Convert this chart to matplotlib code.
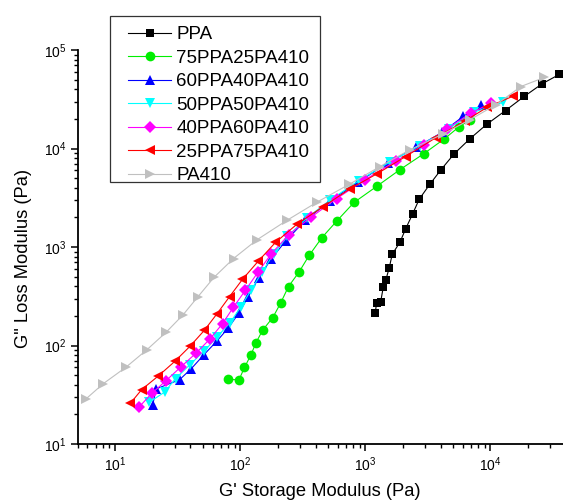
import matplotlib
matplotlib.use("Agg")
import matplotlib.pyplot as plt
from matplotlib.patches import Rectangle

plt.rcParams['font.family'] = ['Liberation Sans', 'DejaVu Sans']
plt.rcParams['mathtext.default'] = 'regular'

# ---- data (G' storage modulus, G'' loss modulus, Pa) ----
ppa_x = [1200, 1230, 1324, 1390, 1453, 1552, 1640, 1890, 2100, 2388, 2694, 3279,
         4036, 5129, 6843, 9300, 13200, 18580, 25880, 35400]
ppa_y = [215, 271, 275, 391, 457, 615, 845, 1119, 1530, 2173, 3057, 4341,
         6120, 8836, 12540, 17530, 24300, 33740, 45400, 56400]

b75_x = [79.4, 97.8, 108, 121.4, 133.7, 151.4, 182, 210, 243, 295, 355, 450,
         593, 811, 1250, 1888, 2925, 4285, 5650, 6840]
b75_y = [45.2, 44.9, 59.8, 79.7, 107, 144, 192, 269, 397, 557, 820, 1248,
         1845, 2830, 4181, 6095, 8836, 12540, 16720, 19460]

b60_x = [19.9, 21.3, 32.7, 40.5, 51.4, 65.5, 80.0, 97.5, 115, 140, 177, 230,
         330, 517, 877, 1510, 2560, 4120, 6040, 8400]
b60_y = [24.6, 36.3, 44.9, 58.0, 81.0, 112, 150, 213, 309, 482, 759, 1145,
         1858, 2917, 4545, 7160, 10300, 14640, 21130, 27340]

b50_x = [18.8, 24.8, 30.4, 39.7, 51.5, 65.6, 82.4, 101, 122, 149, 185, 238,
         342, 525, 889, 1560, 2735, 4630, 7360, 12670]
b50_y = [26.6, 33.6, 46.2, 64.1, 88.0, 123, 169, 246, 366, 551, 853, 1279,
         1977, 3013, 4730, 7260, 10720, 15850, 23370, 29510]

b40_x = [15.4, 19.6, 25.4, 33.6, 44.6, 57.4, 72.2, 88.2, 110, 138, 176, 243,
         367, 590, 993, 1754, 2940, 4490, 6970, 10160]
b40_y = [23.5, 32.6, 43.8, 60.8, 84.3, 117, 167, 245, 364, 551, 845, 1324,
         2002, 3107, 4810, 7470, 10860, 15850, 22920, 28840]

b25_x = [13.2, 16.3, 22.2, 29.9, 39.5, 51.5, 65.0, 82.2, 104, 139, 191, 284,
         461, 754, 1238, 2098, 3680, 6250, 9440, 15240]
b25_y = [25.8, 35.7, 49.2, 68.8, 97.7, 142, 209, 314, 468, 716, 1111, 1705,
         2577, 3897, 5535, 8290, 12930, 19020, 26240, 34100]

pa410_x = [5.81, 8.02, 12.2, 17.9, 25.5, 34.9, 46.0, 61.8, 88.3, 136, 235, 410,
           746, 1309, 2270, 4190, 6840, 11140, 17500, 26900]
pa410_y = [28.5, 40.9, 60.2, 90.4, 136, 205, 314, 493, 764, 1183, 1858, 2850,
           4340, 6565, 9700, 14100, 19560, 27970, 42600, 52600]

labels = ["PPA", "75PPA25PA410", "60PPA40PA410", "50PPA50PA410",
          "40PPA60PA410", "25PPA75PA410", "PA410"]

series = [
    (ppa_x, ppa_y, 'black', 's', 6),
    (b75_x, b75_y, '#00ee00', 'o', 7),
    (b60_x, b60_y, '#0000ff', '^', 7.5),
    (b50_x, b50_y, '#00ffff', 'v', 7.5),
    (b40_x, b40_y, '#ff00ff', 'D', 6),
    (b25_x, b25_y, '#ff0000', '<', 7.5),
    (pa410_x, pa410_y, '#c0c0c0', '>', 7.5),
]

W, H = 563, 504
fig = plt.figure(figsize=(W / 100, H / 100), dpi=100)
ax = fig.add_axes([77.5 / W, 1 - 444 / H, 1 - 77.5 / W, (444 - 50) / H])

handles = []
for (xs, ys, c, m, ms), lab in zip(series, labels):
    h, = ax.plot(xs, ys, color=c, marker=m, markersize=ms, linewidth=0.8,
                 markeredgewidth=0, label=lab, clip_on=False)
    handles.append(h)

ax.set_xscale('log')
ax.set_yscale('log')
ax.set_xlim(5, 38000)
ax.set_ylim(10, 1e5)

for s in ['top', 'right']:
    ax.spines[s].set_visible(False)
for s in ['left', 'bottom']:
    ax.spines[s].set_linewidth(1.3)

ax.tick_params(which='major', direction='out', length=5, width=1.1,
               labelsize=10, pad=3)
ax.tick_params(which='minor', direction='out', length=3, width=1.0)

ax.set_xlabel("G' Storage Modulus (Pa)", fontsize=13.2)
ax.set_ylabel('G" Loss Modulus (Pa)', fontsize=13.2)
ax.xaxis.set_label_coords(0.5, -0.098)
ax.yaxis.set_label_coords(-0.094, 0.472)

leg = fig.legend(handles=handles, labels=labels, frameon=False,
                 loc='upper left', bbox_to_anchor=(128 / W, 1 - 26 / H),
                 bbox_transform=fig.transFigure, borderpad=0, borderaxespad=0,
                 fontsize=13.5, handlelength=2.3, handletextpad=0.27,
                 labelspacing=0.34)

fig.patches.append(Rectangle((109.5 / W, 1 - 182 / H), (320 - 109.5) / W,
                             (182 - 16) / H, transform=fig.transFigure,
                             fill=False, edgecolor='#333333', linewidth=0.9))

fig.savefig("out.png", dpi=100)
